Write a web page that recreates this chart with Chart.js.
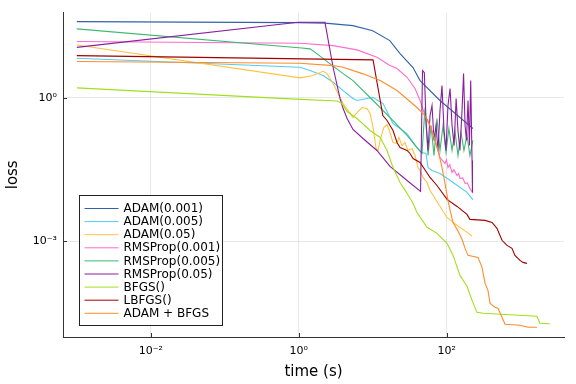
<!DOCTYPE html>
<html>
<head>
<meta charset="utf-8">
<script src="https://cdn.jsdelivr.net/npm/chart.js@4/dist/chart.umd.min.js"></script>
<style>
  html, body { margin: 0; padding: 0; background: #fff; }
  #wrap { width: 576px; height: 384px; }
</style>
</head>
<body>
<div id="wrap"><canvas id="lossChart"></canvas></div>
<script>
// series labels, in legend order
const labels = ['ADAM(0.001)', 'ADAM(0.005)', 'ADAM(0.05)', 'RMSProp(0.001)', 'RMSProp(0.005)',
                'RMSProp(0.05)', 'BFGS()', 'LBFGS()', 'ADAM + BFGS'];
const colors = ['#2f63a8', '#52cdf2', '#ffc23f', '#ff6ccc', '#3db873', '#8a1f9e', '#a2e01c', '#a00000', '#ff8c2a'];

// time (s) / loss values
const adam001T = [0.001, 1.0, 2.26, 5.4, 10.0, 17, 23.4, 35, 43.6, 81, 151, 226];
const adam001L = [39.5, 37.6, 36.7, 32.5, 25.4, 15.8, 8.4, 4.3, 2.3, 0.88, 0.387, 0.228];

const adam005T = [0.001, 1.04, 1.42, 2.13, 2.91, 3.98, 5.41, 6.14, 8.38, 10.1, 13.8, 18.8, 23.4, 29,
                  39.6, 46.3, 52.5, 55.9, 63.1, 81.2, 122, 188, 226];
const adam005L = [6.74, 4.37, 3.72, 2.93, 2.12, 1.42, 0.97, 0.88, 0.97, 1.01, 0.76, 0.29, 0.228, 0.179,
                  0.091, 0.0718, 0.0684, 0.0348, 0.0302, 0.0261, 0.0169, 0.0105, 0.0074];

const adam05T = [0.001, 1.04, 1.56, 2.13, 2.41, 2.91, 3.4, 3.98, 4.64, 5.41, 6.14, 7.16, 8.38, 9.2, 10.1,
                 11.1, 11.8, 12.6, 14.1, 15.6, 17.1, 18.8, 21.3, 22.6, 24.9, 27.3, 30, 34, 37.3, 40.9,
                 43.6, 47.9, 54.2, 59.5, 76.3, 101, 138, 188, 220];
const adam05L = [12.8, 2.62, 2.93, 3.6, 3.22, 1.99, 1.23, 0.76, 0.54, 0.387, 0.492, 0.627, 0.597, 0.47, 0.239,
                 0.087, 0.079, 0.128, 0.239, 0.276, 0.188, 0.116, 0.111, 0.148, 0.1, 0.116, 0.079, 0.087, 0.062, 0.0348,
                 0.0302, 0.0215, 0.0169, 0.0115, 0.0062, 0.00313, 0.00213, 0.00152, 0.00128];

const rms001T = [0.001, 1.04, 2.91, 6.14, 11.4, 17.1, 21.3, 29.1, 37.3, 43.6, 50.9, 59.5, 69.4, 81,
                 94.8, 99, 104, 110, 118, 125, 138, 145, 151, 165, 177, 190, 206, 226];
const rms001L = [15.1, 13.9, 12.4, 10.1, 7.07, 4.74, 4.1, 2.7, 1.57, 0.88, 0.427, 0.251, 0.128, 0.0564,
                 0.0422, 0.05, 0.0348, 0.04, 0.0274, 0.031, 0.0237, 0.026, 0.0205, 0.021, 0.0161, 0.0165, 0.0127, 0.01];

const rms005T = [0.001, 1.1, 1.42, 1.77, 2.65, 3.98, 5.41, 10.1, 18.8, 29.1, 39.6, 46.3, 50.9, 55.9, 61.4,
                 67.3, 73.9, 81.1, 89.1, 97.8, 107, 118, 129, 142, 156, 171, 188, 206, 226];
const rms005L = [27.8, 11.1, 10.6, 8.33, 5.14, 3.22, 2.3, 0.88, 0.335, 0.163, 0.091, 0.0684, 0.627, 0.062, 0.263,
                 0.062, 0.369, 0.079, 0.263, 0.0718, 0.228, 0.079, 0.207, 0.062, 0.188, 0.079, 0.163, 0.062, 0.128];

const rms05T = [0.001, 0.98, 2.26, 2.91, 3.61, 3.98, 4.5, 5.41, 7.39, 11.4, 17.1, 29.1, 44.3, 47.1, 49.8,
                52.5, 55.9, 59.5, 63.3, 67.4, 71.7, 76.3, 81.1, 86.3, 92, 97.8, 104, 111, 118, 126, 134,
                142, 151, 161, 169, 177, 185, 194, 203, 211, 220, 223];
const rms05L = [11.4, 38.2, 38.2, 4.37, 0.97, 0.597, 0.369, 0.217, 0.141, 0.079, 0.0366, 0.0186, 0.011, 3.72, 3.38,
                0.335, 0.079, 0.427, 0.69, 0.128, 0.263, 0.079, 0.54, 1.81, 0.207, 0.079, 0.69, 1.56, 0.263, 0.1, 0.97,
                0.207, 0.079, 0.54, 3.22, 0.263, 0.128, 0.88, 0.1, 2.3, 0.049, 0.0104];

const bfgsT = [0.001, 0.763, 3.29, 3.85, 4.5, 6.14, 9.2, 12.6, 15.6, 18.8, 23.4, 29.1, 35.1, 39.6, 54.2,
               73.9, 101, 122, 151, 188, 220, 256, 309, 1660, 1820, 2490];
const bfgsL = [1.62, 0.953, 0.857, 0.76, 0.517, 0.369, 0.207, 0.148, 0.079, 0.0348, 0.0169, 0.01, 0.00615, 0.00398, 0.00194,
               0.00145, 0.000895, 0.000502, 0.000191, 0.000113, 5.74e-5, 3.22e-5, 3.07e-5, 2.66e-5, 1.9e-5, 1.85e-5];

const lbfgsT = [0.001, 10.1, 13.7, 15.6, 18.8, 21.3, 23.4, 29.1, 31.9, 35.1, 43.6, 59.5, 73.9, 101, 138,
                188, 206, 330, 410, 478, 559, 653, 762, 837, 978, 1074, 1216];
const lbfgsL = [7.67, 6.24, 0.427, 0.335, 0.207, 0.116, 0.091, 0.079, 0.0684, 0.0537, 0.0443, 0.0215, 0.0146, 0.00745, 0.00532,
                0.00362, 0.00285, 0.00271, 0.00246, 0.00185, 0.00104, 0.000813, 0.000703, 0.000502, 0.000394, 0.000358, 0.000341];

const adamBfgsT = [0.001, 1.04, 2.91, 3.98, 7.39, 12.6, 21.3, 31.9, 39.6, 47.9, 55.9, 65.3, 76.3, 86.3, 94.8,
                   104, 111, 122, 138, 161, 177, 194, 265, 300, 330, 361, 385, 450, 493, 559, 614, 978, 1256, 1660];
const adamBfgsL = [5.75, 5.3, 4.74, 4.37, 3.18, 2.3, 1.42, 0.837, 0.627, 0.47, 0.335, 0.179, 0.079, 0.0348, 0.0161,
                   0.0071, 0.00439, 0.00246, 0.00176, 0.00109, 0.000703, 0.000502, 0.000456, 0.000282, 0.00013, 9.3e-5,
                   4.98e-5, 4.1e-5, 3.91e-5, 2.54e-5, 1.81e-5, 1.73e-5, 1.57e-5, 1.57e-5];

const seriesT = [adam001T, adam005T, adam05T, rms001T, rms005T, rms05T, bfgsT, lbfgsT, adamBfgsT];
const seriesL = [adam001L, adam005L, adam05L, rms001L, rms005L, rms05L, bfgsL, lbfgsL, adamBfgsL];

// axis ticks
const xTicks = [1e-2, 1e0, 1e2];
const xTickLabels = ['10⁻²', '10⁰', '10²'];
const yTicks = [1e-3, 1e0];
const yTickLabels = ['10⁻³', '10⁰'];

const FONT = "'DejaVu Sans', sans-serif";
const AXIS_COLOR = '#333';

// inward tick marks + boxed legend in the lower left corner
const overlayPlugin = {
    id: 'overlay',
    afterDraw(chart) {
        const ctx = chart.ctx;
        const ca = chart.chartArea;
        const xs = chart.scales.x, ys = chart.scales.y;
        ctx.save();
        ctx.strokeStyle = AXIS_COLOR;
        ctx.lineWidth = 1;
        ctx.beginPath();
        xTicks.forEach(v => {
            const px = Math.round(xs.getPixelForValue(v)) + 0.5;
            ctx.moveTo(px, ca.bottom);
            ctx.lineTo(px, ca.bottom - 4);
        });
        yTicks.forEach(v => {
            const py = Math.round(ys.getPixelForValue(v)) + 0.5;
            ctx.moveTo(ca.left, py);
            ctx.lineTo(ca.left + 4, py);
        });
        ctx.stroke();

        const bx = ca.left + 16.5, by = ca.bottom - 141.5, bw = 143, bh = 130;
        ctx.fillStyle = '#fff';
        ctx.fillRect(bx, by, bw, bh);
        ctx.strokeStyle = '#222';
        ctx.strokeRect(bx, by, bw, bh);
        ctx.font = '12px ' + FONT;
        ctx.textBaseline = 'middle';
        chart.data.datasets.forEach((ds, i) => {
            const ry = by + 13 + i * 13.1;
            ctx.strokeStyle = ds.borderColor;
            ctx.lineWidth = 1;
            ctx.beginPath();
            ctx.moveTo(bx + 5, ry);
            ctx.lineTo(bx + 39, ry);
            ctx.stroke();
            ctx.fillStyle = '#000';
            ctx.fillText(ds.label, bx + 44, ry + 0.5);
        });
        ctx.restore();
    }
};

function initLossChart() {
    const ctx = document.getElementById('lossChart').getContext('2d');
    const n = labels.length;
    const datasets = labels.map((label, i) => ({
        label: label,
        data: seriesT[i].map((t, k) => ({ x: t, y: seriesL[i][k] })),
        borderColor: colors[i],
        backgroundColor: colors[i],
        borderWidth: 1.1,
        pointRadius: 0,
        tension: 0,
        fill: false,
        order: n - i
    }));

    new Chart(ctx, {
        type: 'line',
        data: { datasets: datasets },
        options: {
            responsive: true,
            maintainAspectRatio: false,
            animation: false,
            layout: { padding: { top: 12, right: 12, left: 0, bottom: 0 } },
            plugins: {
                legend: { display: false },
                tooltip: { enabled: false }
            },
            scales: {
                x: {
                    type: 'logarithmic',
                    min: 6.5e-4,
                    max: 3850,
                    afterBuildTicks: s => { s.ticks = xTicks.map(v => ({ value: v })); },
                    afterFit: s => { s.height = 47; },
                    ticks: {
                        autoSkip: false,
                        maxRotation: 0,
                        padding: 8,
                        color: '#000',
                        font: { family: FONT, size: 11 },
                        callback: (v, i) => xTickLabels[i]
                    },
                    grid: { color: 'rgba(0,0,0,0.09)', drawTicks: false },
                    border: { display: true, color: AXIS_COLOR, width: 1 },
                    title: {
                        display: true,
                        text: 'time (s)',
                        color: '#000',
                        font: { family: FONT, size: 15 },
                        padding: { top: 0, bottom: 3 }
                    }
                },
                y: {
                    type: 'logarithmic',
                    min: 9.8e-6,
                    max: 61,
                    afterBuildTicks: s => { s.ticks = yTicks.map(v => ({ value: v })); },
                    afterFit: s => { s.width = 63; },
                    ticks: {
                        autoSkip: false,
                        padding: 6,
                        color: '#000',
                        font: { family: FONT, size: 11 },
                        callback: (v, i) => yTickLabels[i]
                    },
                    grid: { color: 'rgba(0,0,0,0.09)', drawTicks: false },
                    border: { display: true, color: AXIS_COLOR, width: 1 },
                    title: {
                        display: true,
                        text: 'loss',
                        color: '#000',
                        font: { family: FONT, size: 15 },
                        padding: { top: 4, bottom: 0 }
                    }
                }
            }
        },
        plugins: [overlayPlugin]
    });
}

document.addEventListener('DOMContentLoaded', initLossChart);
</script>
</body>
</html>
